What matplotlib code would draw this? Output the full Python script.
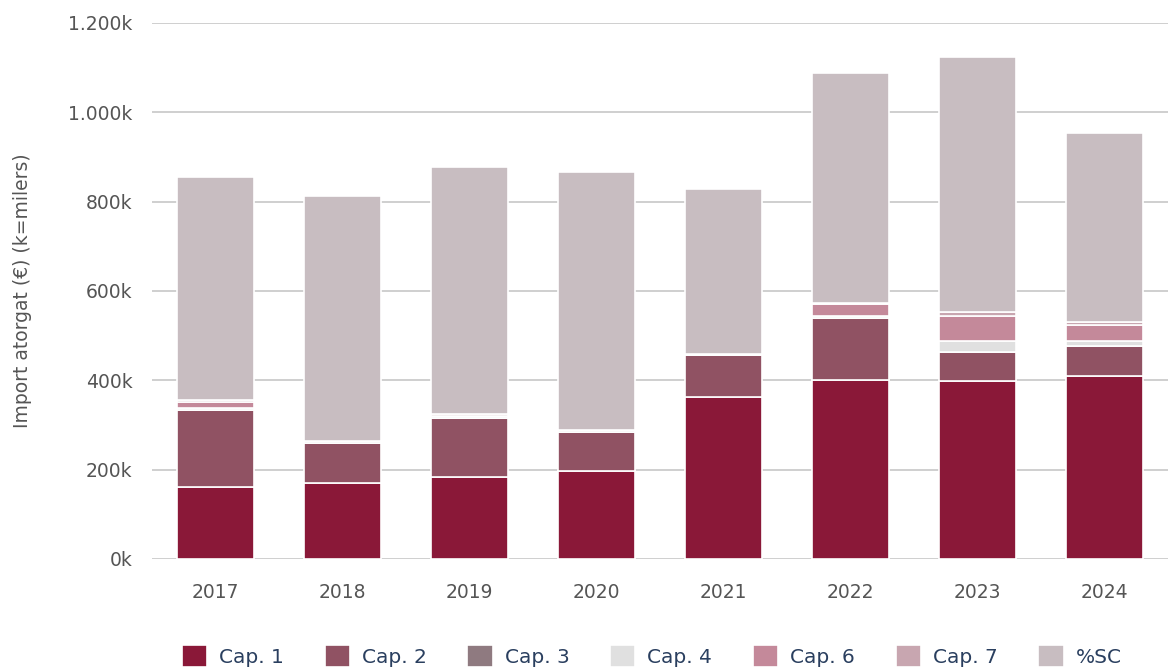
import matplotlib
matplotlib.use("Agg")
import matplotlib.pyplot as plt
import numpy as np
from matplotlib.ticker import FuncFormatter

plt.rcParams.update({"font.family": "DejaVu Sans"})

years = ["2017", "2018", "2019", "2020", "2021", "2022", "2023", "2024"]
series_names = ["Cap. 1", "Cap. 2", "Cap. 3", "Cap. 4", "Cap. 6", "Cap. 7", "%SC"]
# values in thousands of euros
cap1 = [162, 170, 184, 198, 363, 401, 399, 410]
cap2 = [171, 90, 131, 87, 94, 139, 65, 67]
cap3 = [0, 0, 0, 0, 0, 0, 0, 0]
cap4 = [5, 4, 6, 4, 3, 4, 25, 12]
cap6 = [14, 0, 0, 0, 0, 26, 55, 35]
cap7 = [3, 0, 3, 0, 0, 3, 10, 7]
pct_sc = [500, 549, 553, 577, 369, 515, 570, 422]

colors = ["#8a1838", "#905263", "#8f7a80", "#e0e0e0", "#c4899a", "#c8a6b0", "#c8bdc1"]

fig = plt.figure(figsize=(11.68, 6.69), dpi=100)
ax = fig.add_axes([152 / 1168, (669 - 559) / 669, 1016 / 1168, 536 / 669])

x = np.arange(len(years))
bottom = np.zeros(len(years))
handles = []
for name, vals, c in zip(series_names, [cap1, cap2, cap3, cap4, cap6, cap7, pct_sc], colors):
    vals = np.array(vals, dtype=float)
    b = ax.bar(x, vals, 0.61, bottom=bottom, color=c, edgecolor="white", linewidth=1.2,
               label=name, zorder=3)
    bottom += vals
    handles.append(b)

ax.set_xlim(-0.5, len(years) - 0.5)
ax.set_ylim(0, 1200)
ax.set_yticks(np.arange(0, 1201, 200))
ax.yaxis.set_major_formatter(FuncFormatter(lambda v, p: f"{int(v):,}k".replace(",", ".")))
ax.set_xticks(x)
ax.set_xticklabels(years)
ax.grid(axis="y", color="#cccccc", linewidth=1.3, zorder=0)
ax.set_axisbelow(True)
for s in ax.spines.values():
    s.set_visible(False)
ax.tick_params(axis="both", length=0, labelsize=13.5, colors="#555555")
ax.tick_params(axis="x", pad=17)
ax.tick_params(axis="y", pad=14)
ax.set_ylabel("Import atorgat (€) (k=milers)", fontsize=13.5, color="#555555")
ax.yaxis.set_label_coords(-(152 - 32) / 1016, 0.5)

fig.legend(handles=handles, loc="center", bbox_to_anchor=(0.558, 1 - 656 / 669), ncol=7,
           frameon=False, fontsize=14.5, labelcolor="#2a3f5f", handlelength=1.25, handleheight=1.25,
           columnspacing=2.02, handletextpad=0.6)

fig.savefig("out.png", dpi=100)
